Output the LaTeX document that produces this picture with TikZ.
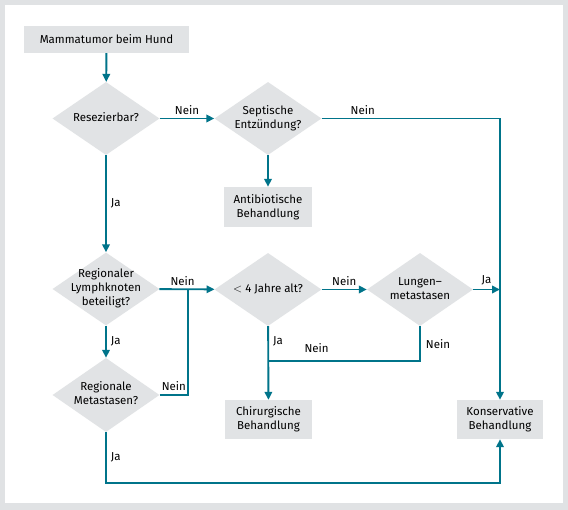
\documentclass[tikz,border=0pt]{standalone}
\usepackage{fontspec}
\setmainfont{Fira Sans}
\usetikzlibrary{shapes.geometric,arrows.meta}
\definecolor{flowteal}{HTML}{00748A}
\definecolor{boxgray}{HTML}{E1E3E5}
\definecolor{framegray}{HTML}{E0E2E4}
\newcommand{\diatext}[1]{\raisebox{-2.8pt}[0pt][0pt]{\makebox[0pt]{\begin{tabular}[c]{@{}c@{}}#1\end{tabular}}}}
\begin{document}
\begin{tikzpicture}[x=1pt,y=-1pt,
  every node/.style={font=\fontsize{11.5}{14}\selectfont},
  box/.style={fill=boxgray, inner sep=0pt, align=center},
  dia/.style={diamond, fill=boxgray, inner sep=0pt, minimum width=107pt, minimum height=73pt},
  flow/.style={draw=flowteal, line width=1.9pt},
  arr/.style={flow, -{Triangle[length=8pt,width=7.5pt]}},
  lbl/.style={inner sep=2pt}
]
\fill[framegray] (0,0) rectangle (568,510);
\fill[white] (5,5) rectangle (563,503);
\useasboundingbox (0,0) rectangle (568,510);

\node[box, minimum width=165pt, minimum height=27pt] (start) at (106.5,39.5) {Mammatumor beim Hund};
\node[dia] (res) at (106,118.5) {\diatext{Resezierbar?}};
\node[dia] (sep) at (268,118.5) {\diatext{Septische\\Entzündung?}};
\node[box, minimum width=88pt, minimum height=40pt] (anti) at (268,207) {Antibiotische\\Behandlung};
\node[dia] (reg) at (106,289) {\diatext{Regionaler\\Lymphknoten\\beteiligt?}};
\node[dia, minimum height=74pt] (met) at (106,395) {\diatext{Regionale\\Metastasen?}};
\node[dia] (jahre) at (268,289.5) {\diatext{$<$ 4 Jahre alt?}};
\node[dia, minimum width=106pt] (lung) at (420,289.5) {\diatext{Lungen\textendash\\metastasen}};
\node[box, minimum width=87pt, minimum height=39pt] (chir) at (268.5,419.5) {Chirurgische\\Behandlung};
\node[box, minimum width=86pt, minimum height=39pt] (kons) at (500,419.5) {Konservative\\Behandlung};

\coordinate (j1) at (188,289.5);
\coordinate (j2) at (500,289.5);
\coordinate (j3) at (268,361);
\coordinate (bot) at (106,483);

\draw[arr] (start) -- (res);
\draw[arr] (res) -- node[lbl, above, yshift=1pt]{Nein} (sep);
\draw[arr] (sep) -- (anti);
\draw[arr] (sep.east) -| node[lbl, pos=0.115, above, yshift=1pt]{Nein} (kons.north);
\draw[arr] (res) -- node[lbl, right, xshift=2pt]{Ja} (reg);
\draw[arr] (reg) -- node[lbl, above, pos=0.42, yshift=1pt]{Nein} (jahre);
\draw[arr] (reg) -- node[lbl, right, xshift=2pt]{Ja} (met);
\draw[flow] (met.east) -- node[lbl, above, yshift=1pt]{Nein} (met.east -| j1) -- (j1);
\draw[arr] (met.south) -- node[lbl, right, xshift=2pt]{Ja} (bot) -| (kons.south);
\draw[arr] (jahre) -- node[lbl, above, yshift=1pt]{Nein} (lung);
\draw[arr] (lung) -- node[lbl, above, yshift=1pt]{Ja} (j2);
\draw[arr] (jahre) -- node[lbl, right, pos=0.2, xshift=2pt]{Ja} (chir);
\draw[flow] (lung.south) -- node[lbl, right, xshift=3pt]{Nein} (lung.south |- j3) -- node[lbl, above, pos=0.68, yshift=5pt]{Nein} (j3);
\end{tikzpicture}
\end{document}
